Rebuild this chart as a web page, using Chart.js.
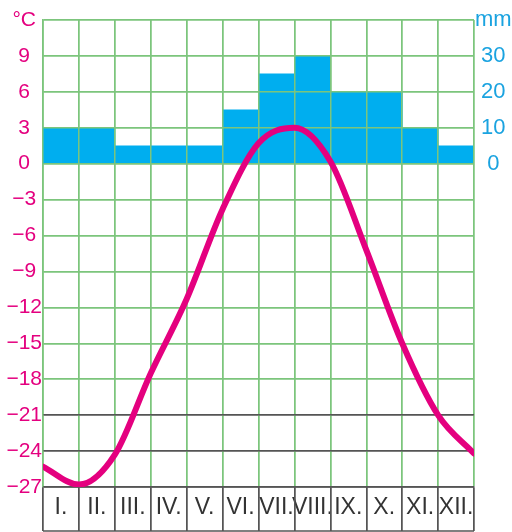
<!DOCTYPE html>
<html>
<head>
<meta charset="utf-8">
<script src="https://cdn.jsdelivr.net/npm/chart.js@4"></script>
<style>
  html, body { margin: 0; padding: 0; background: #fff; }
  #wrap { width: 512px; height: 532px; }
</style>
</head>
<body>
<div id="wrap"><canvas id="climChart"></canvas></div>
<script>
const months = ['I.', 'II.', 'III.', 'IV.', 'V.', 'VI.', 'VII.', 'VIII.', 'IX.', 'X.', 'XI.', 'XII.'];
const precipitationMm = [10, 10, 5, 5, 5, 15, 25, 30, 20, 20, 10, 5];
// temperature curve read at the month borders (start of I. ... end of XII.)
const temperatureC = [-25.3, -26.8, -24.3, -17.5, -11.3, -3.8, 1.7, 3.0, 0.2, -7.2, -15, -21, -24.2];
const tempUnit = '°C';
const precipUnit = 'mm';
const darkLines = [-21, -24, -27];

const green = '#7cc57c';
const dark = '#555555';
const magenta = '#e4007f';
const cyan = '#00aeef';
const sans = '"Liberation Sans", Arial, sans-serif';

// grid goes over the bars but under the curve
const gridOverBars = {
    id: 'gridOverBars',
    afterDatasetDraw(chart, args) {
        if (args.index !== 0) return;
        chart.scales.x.drawGrid(chart.chartArea);
        chart.scales.y.drawGrid(chart.chartArea);
    },
    afterDraw(chart) {
        const x = chart.scales.x;
        const ctx = chart.ctx;
        ctx.save();
        ctx.strokeStyle = dark;
        ctx.lineWidth = 1.5;
        ctx.beginPath();
        ctx.moveTo(x.left, x.bottom - 1);
        ctx.lineTo(x.right, x.bottom - 1);
        ctx.stroke();
        ctx.restore();
    }
};

document.addEventListener('DOMContentLoaded', () => {
    const ctx = document.getElementById('climChart').getContext('2d');
    new Chart(ctx, {
        data: {
            labels: months,
            datasets: [{
                type: 'bar',
                data: precipitationMm,
                backgroundColor: cyan,
                borderWidth: 0,
                grouped: false,
                barPercentage: 1,
                categoryPercentage: 1,
                xAxisID: 'x',
                yAxisID: 'y1',
                order: 1
            }, {
                type: 'line',
                data: temperatureC.map((t, i) => ({ x: i, y: t })),
                borderColor: magenta,
                borderWidth: 6,
                borderCapStyle: 'round',
                pointRadius: 0,
                cubicInterpolationMode: 'monotone',
                xAxisID: 'xl',
                yAxisID: 'y',
                order: 0
            }]
        },
        options: {
            responsive: true,
            maintainAspectRatio: false,
            animation: false,
            layout: { padding: { top: 20, left: 0, right: 0, bottom: 0 } },
            plugins: { legend: { display: false }, tooltip: { enabled: false } },
            scales: {
                x: {
                    type: 'category',
                    offset: true,
                    grid: { offset: true, color: green, lineWidth: 1.5, tickColor: dark, tickWidth: 1.5, tickLength: 44 },
                    border: { color: dark, width: 1.5 },
                    ticks: {
                        autoSkip: false,
                        maxRotation: 0,
                        minRotation: 0,
                        padding: -37,
                        color: '#333',
                        font: { family: sans, size: 23 }
                    },
                    afterFit: (s) => { s.height = 45; }
                },
                xl: { type: 'linear', display: false, min: 0, max: 12 },
                y: {
                    position: 'left',
                    min: -27,
                    max: 12,
                    grid: {
                        color: (c) => darkLines.includes(c.tick.value) ? dark : green,
                        lineWidth: 1.5,
                        drawTicks: false
                    },
                    border: { color: green, width: 1.5 },
                    ticks: {
                        stepSize: 3,
                        padding: 1,
                        crossAlign: 'center',
                        color: magenta,
                        font: { family: sans, size: 21 },
                        callback: (v) => v === 12 ? tempUnit : (v < 0 ? '\u2212' + Math.abs(v) : String(v))
                    },
                    afterFit: (s) => { s.width = 43; }
                },
                y1: {
                    position: 'right',
                    min: -90,
                    max: 40,
                    grid: { display: false, drawTicks: false },
                    border: { display: false },
                    ticks: {
                        stepSize: 10,
                        padding: 1,
                        crossAlign: 'center',
                        color: '#1aa3e0',
                        font: { family: sans, size: 22 },
                        callback: (v) => v === 40 ? precipUnit : (v >= 0 ? String(v) : '')
                    },
                    afterFit: (s) => { s.width = 38; }
                }
            }
        },
        plugins: [gridOverBars]
    });
});
</script>
</body>
</html>
